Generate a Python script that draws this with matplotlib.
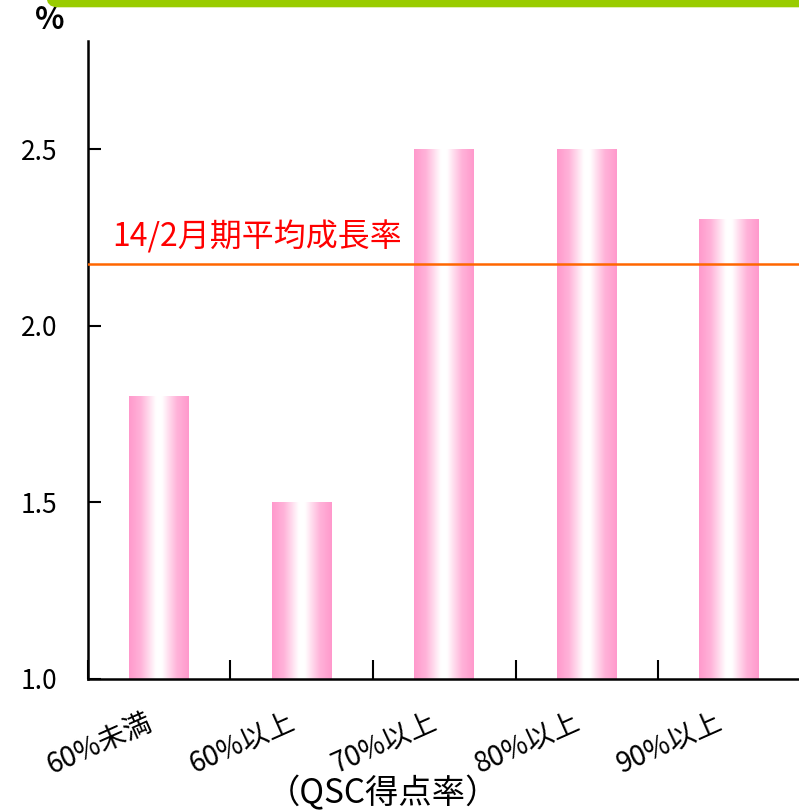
import numpy as np
import matplotlib.pyplot as plt
from matplotlib.colors import LinearSegmentedColormap
from matplotlib.patches import FancyBboxPatch

plt.rcParams['font.family'] = ['Noto Sans CJK JP', 'DejaVu Sans']

# Data
categories = ['60%未満', '60%以上', '70%以上', '80%以上', '90%以上']
growth = [1.8, 1.5, 2.5, 2.5, 2.3]
avg_growth = 2.175
avg_label = '14/2月期平均成長率'
yticks = [1.0, 1.5, 2.0, 2.5]

fig = plt.figure(figsize=(7.99, 8.11), dpi=100)
ax = fig.add_axes([0.110, 0.1628, 0.892, 0.7866])

# Pink-white-pink gradient bars
cmap = LinearSegmentedColormap.from_list(
    'barfill', [(0.0, '#ff99cc'), (0.2, '#ffb3d9'), (0.45, '#ffffff'),
                (0.55, '#ffffff'), (0.8, '#ffb3d9'), (1.0, '#ff99cc')])
grad = np.linspace(0, 1, 256).reshape(1, -1)
width = 0.42
for i, v in enumerate(growth):
    ax.imshow(grad, cmap=cmap, aspect='auto', interpolation='bilinear',
              extent=(i - width / 2, i + width / 2, 1.0, v), zorder=2)

# Average growth line
ax.axhline(avg_growth, color='#ff6600', lw=1.8, zorder=3)
ax.text(-0.33, avg_growth + 0.03, avg_label, color='#ff0000', fontsize=23,
        ha='left', va='bottom')

ax.set_xlim(-0.5, 4.5)
ax.set_ylim(1.0, 2.806)

for s in ['top', 'right']:
    ax.spines[s].set_visible(False)
for s in ['left', 'bottom']:
    ax.spines[s].set_linewidth(1.8)

ax.set_yticks(yticks)
ax.set_yticklabels([f'{t:.1f}' for t in yticks], fontsize=19)
ax.tick_params(axis='y', direction='in', length=9, width=1.5, pad=22)

# Category boundaries as ticks, labels drawn separately
ax.set_xticks(np.arange(-0.5, 5.0, 1.0))
ax.set_xticklabels([])
ax.tick_params(axis='x', direction='in', length=14, width=1.5)
for i, name in enumerate(categories):
    ax.text(i - 0.1, -0.045, name, transform=ax.get_xaxis_transform(),
            fontsize=20, rotation=24, rotation_mode='anchor',
            ha='right', va='top')

fig.text(0.48, 0.021, '（QSC得点率）', fontsize=24, ha='center', va='center')
fig.text(0.062, 0.975, '%', fontsize=22, fontweight='bold',
         ha='center', va='center')

# Green header strip
fig.patches.append(FancyBboxPatch((0.058, 0.991), 1.2, 0.05,
                                  boxstyle='round,pad=0,rounding_size=0.014',
                                  transform=fig.transFigure, facecolor='#99cc00',
                                  edgecolor='none', zorder=5))

fig.savefig('out.png', dpi=100)
